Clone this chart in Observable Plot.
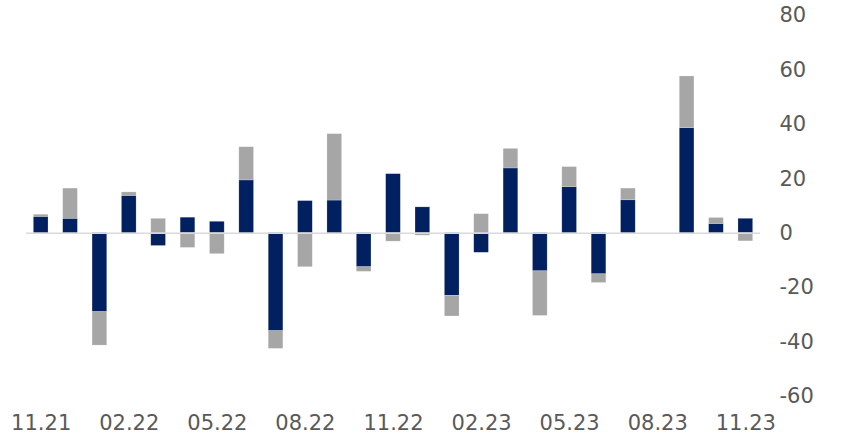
<!DOCTYPE html>
<html>
<head>
<meta charset="utf-8">
<script src="https://cdn.jsdelivr.net/npm/d3@7"></script>
<script src="https://cdn.jsdelivr.net/npm/@observablehq/plot@0.6"></script>
<style>
  html, body { margin: 0; padding: 0; background: #fff; }
  #chart svg { display: block; }
</style>
</head>
<body>
<div id="chart"></div>
<script>
const months = ["11.21","12.21","01.22","02.22","03.22","04.22","05.22","06.22","07.22","08.22","09.22","10.22","11.22","12.22","01.23","02.23","03.23","04.23","05.23","06.23","07.23","08.23","09.23","10.23","11.23"];
const navyValues = [6.0, 5.3, -29.0, 13.7, -4.7, 5.7, 4.2, 19.4, -36.0, 11.8, 12.0, -12.5, 21.7, 9.5, -23.0, -7.2, 23.8, -14.0, 16.9, -15.1, 12.1, 0, 38.6, 3.4, 5.3];
const grayValues = [0.8, 11.1, -12.3, 1.3, 5.3, -5.4, -7.7, 12.2, -6.5, -12.5, 24.4, -1.7, -3.1, -0.9, -7.6, 7.0, 7.2, -16.4, 7.4, -3.2, 4.3, 0, 19.0, 2.2, -3.0];
const xTickLabels = ["11.21","02.22","05.22","08.22","11.22","02.23","05.23","08.23","11.23"];
const yTicks = [-60, -40, -20, 0, 20, 40, 60, 80];
const seriesNames = ["A", "B"];
const seriesColors = ["#002060", "#A6A6A6"];

const rows = [];
months.forEach((m, i) => {
  rows.push({month: m, series: seriesNames[0], order: 0, value: navyValues[i]});
  rows.push({month: m, series: seriesNames[1], order: 1, value: grayValues[i]});
});

const chart = Plot.plot({
  width: 843,
  height: 436,
  marginTop: 15,
  marginBottom: 40,
  marginLeft: 26,
  marginRight: 83,
  style: {fontFamily: "DejaVu Sans, Verdana, sans-serif", fontSize: "21px", color: "#595959", background: "#fff"},
  x: {domain: months, paddingInner: 0.5, paddingOuter: 0.25, align: 0.5, round: false, label: null},
  y: {domain: [-60, 80], label: null},
  color: {domain: seriesNames, range: seriesColors},
  marks: [
    Plot.barY(rows, Plot.stackY({order: "order"}, {x: "month", y: "value", fill: "series", stroke: "#ffffff", strokeOpacity: 0.35, strokeWidth: 0.6})),
    Plot.ruleY([0], {stroke: "#d9d9d9", strokeWidth: 1.5}),
    Plot.axisX({ticks: xTickLabels, tickSize: 0, tickPadding: 19, fontSize: 21, fill: "#595959"}),
    Plot.axisY({anchor: "right", ticks: yTicks, tickFormat: d => String(d), tickSize: 0, tickPadding: 19, fontSize: 21, fill: "#595959", textAnchor: "start"})
  ]
});
document.getElementById("chart").appendChild(chart);
</script>
</body>
</html>
